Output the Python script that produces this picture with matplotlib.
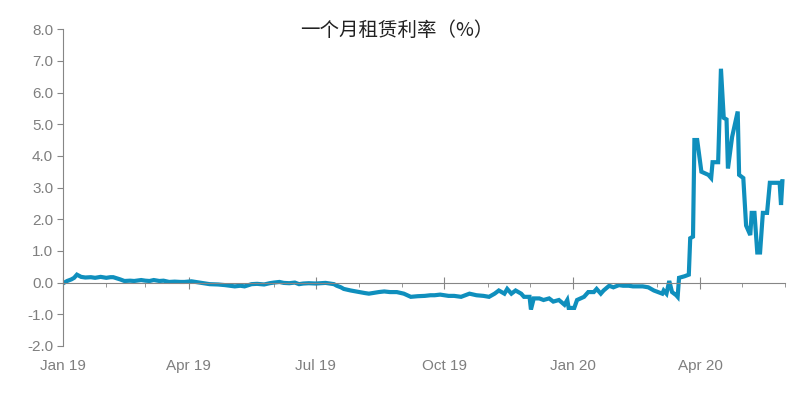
import pandas as pd
import matplotlib
matplotlib.use('Agg')
import matplotlib.pyplot as plt
import matplotlib.dates as mdates
from matplotlib.ticker import FormatStrFormatter

title = '一个月租赁利率（%）'

# rough daily readings taken off the chart
dates_2019 = ['2019-01-02', '2019-01-04', '2019-01-07', '2019-01-09', '2019-01-11', '2019-01-14', '2019-01-17',
              '2019-01-21', '2019-01-24', '2019-01-28', '2019-02-01', '2019-02-04', '2019-02-06', '2019-02-11',
              '2019-02-14', '2019-02-18', '2019-02-21', '2019-02-26', '2019-03-01', '2019-03-04', '2019-03-07',
              '2019-03-11', '2019-03-14', '2019-03-18', '2019-03-22', '2019-03-26', '2019-03-29', '2019-04-03',
              '2019-04-09', '2019-04-16', '2019-04-22', '2019-04-27', '2019-05-04', '2019-05-08', '2019-05-11',
              '2019-05-16', '2019-05-20', '2019-05-25', '2019-05-29', '2019-06-01', '2019-06-05', '2019-06-08',
              '2019-06-12', '2019-06-16', '2019-06-19', '2019-06-22', '2019-06-26', '2019-07-01', '2019-07-04',
              '2019-07-08', '2019-07-11', '2019-07-14', '2019-07-16', '2019-07-19', '2019-07-21', '2019-07-26',
              '2019-08-01', '2019-08-05', '2019-08-08', '2019-08-12', '2019-08-15', '2019-08-19', '2019-08-23',
              '2019-08-28', '2019-09-02', '2019-09-07', '2019-09-12', '2019-09-17', '2019-09-21', '2019-09-24',
              '2019-09-28', '2019-10-01', '2019-10-04', '2019-10-08', '2019-10-13', '2019-10-16', '2019-10-19',
              '2019-10-24', '2019-10-29', '2019-11-02', '2019-11-06', '2019-11-09', '2019-11-13', '2019-11-15',
              '2019-11-18', '2019-11-21', '2019-11-25', '2019-11-27', '2019-12-01', '2019-12-02', '2019-12-04',
              '2019-12-08', '2019-12-11', '2019-12-15', '2019-12-18', '2019-12-22', '2019-12-26', '2019-12-28',
              '2019-12-29']
values_2019 = [0.00, 0.05, 0.10, 0.15, 0.25, 0.18, 0.16,
               0.17, 0.15, 0.18, 0.15, 0.17, 0.17, 0.10,
               0.05, 0.06, 0.05, 0.08, 0.06, 0.05, 0.08,
               0.05, 0.06, 0.02, 0.03, 0.02, 0.02, 0.04,
               0.00, -0.05, -0.06, -0.08, -0.12, -0.10, -0.12,
               -0.05, -0.04, -0.06, -0.02, 0.00, 0.02, -0.01,
               -0.02, 0.00, -0.05, -0.03, -0.02, -0.03, -0.02,
               -0.01, -0.03, -0.05, -0.10, -0.15, -0.20, -0.25,
               -0.30, -0.33, -0.35, -0.32, -0.30, -0.28, -0.30,
               -0.30, -0.35, -0.45, -0.43, -0.42, -0.40, -0.40,
               -0.38, -0.40, -0.42, -0.42, -0.45, -0.40, -0.35,
               -0.40, -0.42, -0.45, -0.35, -0.25, -0.35, -0.20,
               -0.35, -0.25, -0.35, -0.45, -0.45, -0.85, -0.50,
               -0.50, -0.55, -0.50, -0.60, -0.55, -0.70, -0.55,
               -0.80]

dates_2020 = ['2020-01-02', '2020-01-04', '2020-01-09', '2020-01-12', '2020-01-16', '2020-01-18', '2020-01-21',
              '2020-01-23', '2020-01-27', '2020-01-30', '2020-02-03', '2020-02-06', '2020-02-10', '2020-02-13',
              '2020-02-17', '2020-02-20', '2020-02-24', '2020-02-28', '2020-03-02', '2020-03-05', '2020-03-06',
              '2020-03-08', '2020-03-10', '2020-03-12', '2020-03-15', '2020-03-16', '2020-03-17', '2020-03-21',
              '2020-03-24', '2020-03-25', '2020-03-27', '2020-03-28', '2020-03-30', '2020-04-02', '2020-04-07',
              '2020-04-09', '2020-04-10', '2020-04-14', '2020-04-16', '2020-04-18', '2020-04-20', '2020-04-21',
              '2020-04-24', '2020-04-28', '2020-04-29', '2020-05-02', '2020-05-04', '2020-05-07', '2020-05-08',
              '2020-05-10', '2020-05-12', '2020-05-14', '2020-05-16', '2020-05-19', '2020-05-21', '2020-05-28',
              '2020-05-29', '2020-05-30']
values_2020 = [-0.80, -0.55, -0.45, -0.30, -0.30, -0.20, -0.35,
               -0.25, -0.10, -0.15, -0.08, -0.10, -0.10, -0.12,
               -0.12, -0.12, -0.15, -0.25, -0.30, -0.35, -0.25,
               -0.35, 0.05, -0.30, -0.40, -0.45, 0.15, 0.20,
               0.25, 1.40, 1.45, 4.50, 4.50, 3.50, 3.40,
               3.30, 3.80, 3.80, 6.75, 5.20, 5.15, 3.60,
               4.60, 5.40, 3.40, 3.30, 1.80, 1.50, 2.20,
               2.20, 0.95, 0.95, 2.20, 2.20, 3.15, 3.15,
               2.45, 3.20]

x_start, x_end = '2019-01-01', '2020-06-01'
y_ticks = [-2, -1, 0, 1, 2, 3, 4, 5, 6, 7, 8]

plt.rcParams['font.family'] = ['Liberation Sans', 'Noto Sans CJK SC', 'DejaVu Sans']
plt.rcParams['axes.unicode_minus'] = False

dates = pd.to_datetime(dates_2019 + dates_2020)
values = values_2019 + values_2020

fig = plt.figure(figsize=(8.07, 3.94), dpi=100)
ax = fig.add_axes([0.078, 0.122, 0.895, 0.804])

ax.plot(dates, values, color='#0f8fbd', linewidth=3.0, solid_joinstyle='miter')

gray = '#868686'
ax.set_ylim(-2, 8)
ax.set_yticks(y_ticks)
ax.yaxis.set_major_formatter(FormatStrFormatter('%.1f'))
ax.set_xlim(pd.Timestamp(x_start), pd.Timestamp(x_end))

ax.spines['top'].set_visible(False)
ax.spines['right'].set_visible(False)
ax.spines['left'].set_color(gray)
ax.spines['bottom'].set_color(gray)
ax.spines['bottom'].set_position(('data', 0))

ax.xaxis.set_major_locator(mdates.MonthLocator(bymonth=[1, 4, 7, 10]))
ax.xaxis.set_minor_locator(mdates.MonthLocator())
ax.xaxis.set_major_formatter(mdates.DateFormatter('%b %y'))

ax.tick_params(axis='y', colors=gray, labelsize=11, length=4, pad=3, labelcolor='#7f7f7f')
ax.tick_params(axis='x', which='major', direction='inout', length=8, colors=gray,
               labelsize=11, labelcolor='#7f7f7f', pad=51)
ax.tick_params(axis='x', which='minor', direction='out', length=3, colors=gray)

fig.text(0.492, 0.922, title, ha='center', va='center', fontsize=14, color='#222222',
         family=['Noto Sans CJK SC', 'DejaVu Sans'])

fig.savefig('out.png', dpi=100)
